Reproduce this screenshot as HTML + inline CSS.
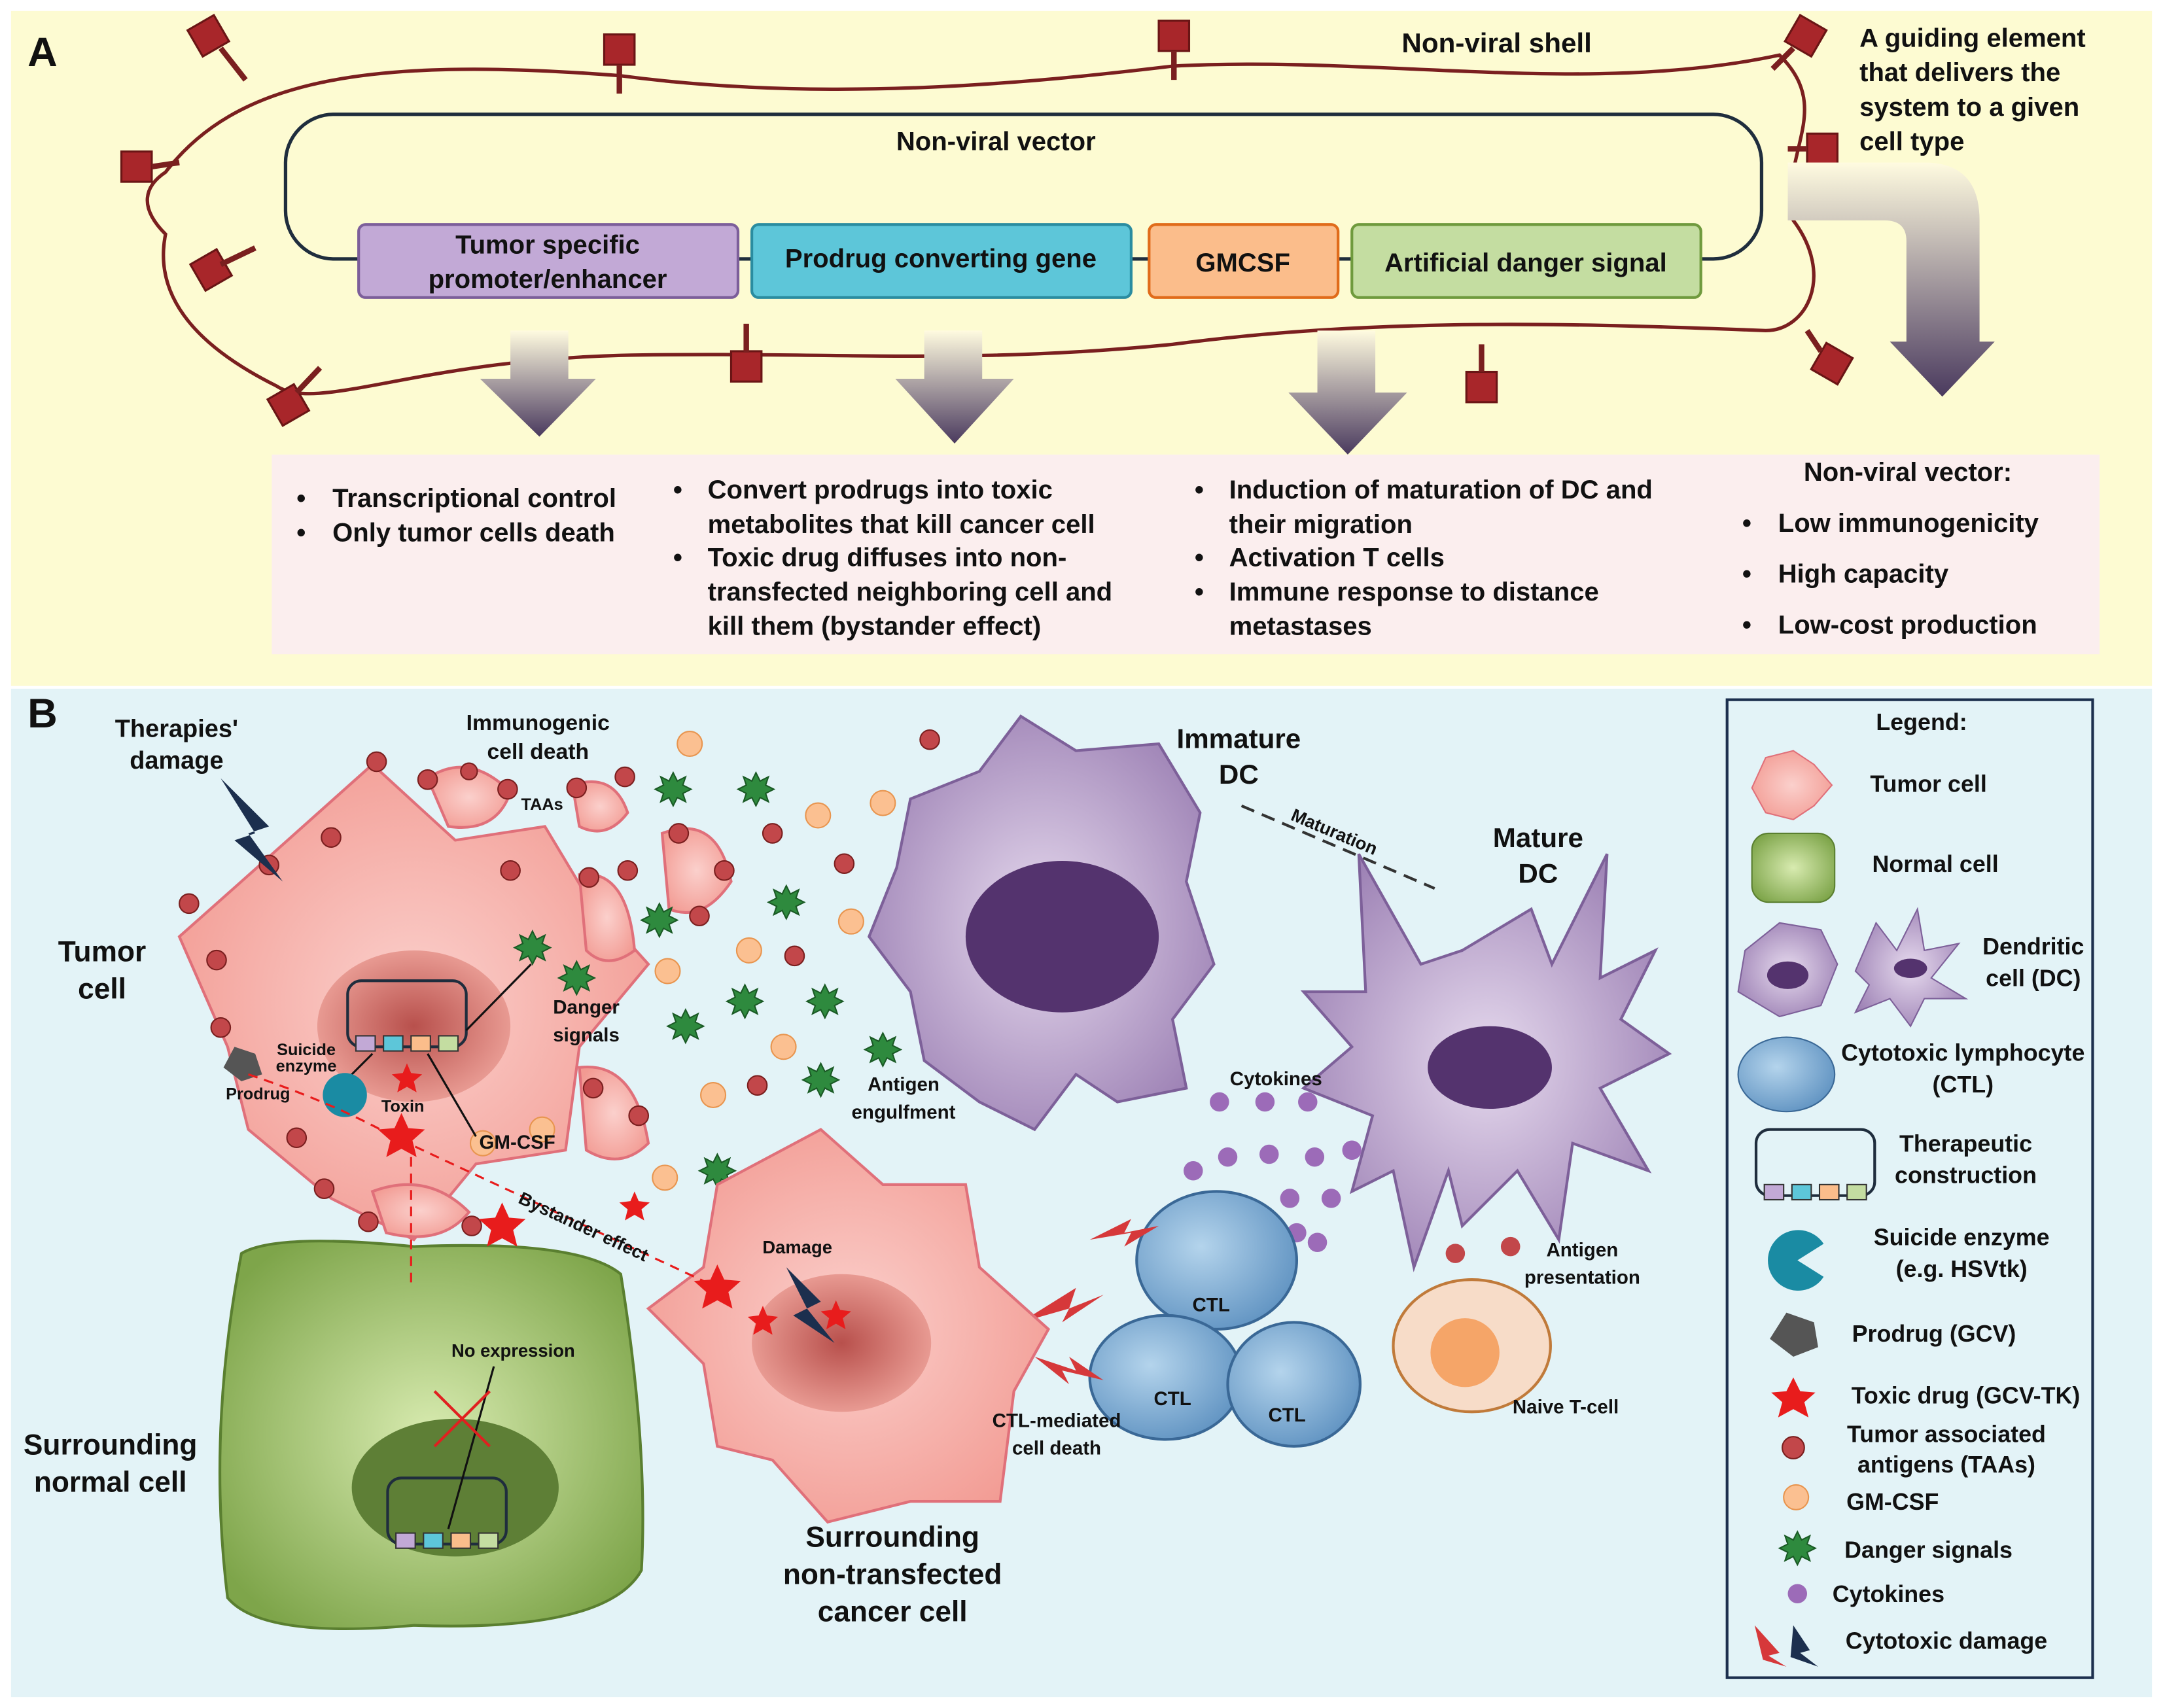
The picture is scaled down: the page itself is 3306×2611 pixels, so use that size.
<!DOCTYPE html>
<html><head><meta charset="utf-8">
<style>
html,body{margin:0;padding:0;background:#fff;}
svg{display:block;width:3306px;height:2611px;}
text{font-family:"Liberation Sans",sans-serif;font-weight:bold;fill:#111;}
</style></head><body>
<svg viewBox="0 0 1568 1240" preserveAspectRatio="none" xmlns="http://www.w3.org/2000/svg">
<defs>
<linearGradient id="ag" x1="0" y1="0" x2="0" y2="1"><stop offset="0" stop-color="#fffbe0"/><stop offset="1" stop-color="#4a3a5e"/></linearGradient>
<radialGradient id="tum" cx="0.5" cy="0.5" r="0.6"><stop offset="0" stop-color="#fbd0cc"/><stop offset="1" stop-color="#f29a92"/></radialGradient>
<radialGradient id="nuc" cx="0.5" cy="0.5" r="0.5"><stop offset="0" stop-color="#b8504c"/><stop offset="1" stop-color="#e89a92"/></radialGradient>
<radialGradient id="dc" cx="0.5" cy="0.5" r="0.6"><stop offset="0" stop-color="#e6daee"/><stop offset="1" stop-color="#9b7fb3"/></radialGradient>
<radialGradient id="nrm" cx="0.5" cy="0.5" r="0.6"><stop offset="0" stop-color="#d8ebb0"/><stop offset="1" stop-color="#7ea54a"/></radialGradient>
<radialGradient id="ctl" cx="0.4" cy="0.4" r="0.7"><stop offset="0" stop-color="#b4d4ec"/><stop offset="1" stop-color="#5b8fbf"/></radialGradient>
<g id="ds"><path d="M0,-12 L3,-6 9,-9 7,-3 13,0 7,3 9,9 3,6 0,12 -3,6 -9,9 -7,3 -13,0 -7,-3 -9,-9 -3,-6 Z" fill="#2e8a3e" stroke="#1a5a25" stroke-width="1"/></g>
</defs>
<rect x="8" y="8" width="1552" height="490" fill="#fdfbd2"/>
<rect x="8" y="500" width="1552" height="732" fill="#e3f3f7"/>
<text x="20" y="48" font-size="30">A</text>
<text x="20" y="528" font-size="30">B</text>

<path d="M120,125 C170,60 260,40 450,55 C600,75 750,60 850,48 C1000,40 1150,70 1290,40 C1330,80 1290,110 1300,160 C1330,200 1310,240 1280,240 C1150,235 1000,230 850,250 C700,265 600,255 450,258 C300,262 230,300 200,280 C150,255 110,220 120,170 C100,150 105,135 120,125 Z" fill="none" stroke="#7a1f1f" stroke-width="2.5"/>
<g fill="#a8262a" stroke="#6a1515" stroke-width="1.5">
<rect x="140" y="15" width="22" height="22" transform="rotate(-30 151 26)"/><line x1="160" y1="35" x2="178" y2="58" stroke="#7a1f1f" stroke-width="4"/>
<rect x="438" y="25" width="22" height="22"/><line x1="449" y1="47" x2="449" y2="68" stroke="#7a1f1f" stroke-width="4"/>
<rect x="840" y="15" width="22" height="22"/><line x1="851" y1="37" x2="851" y2="58" stroke="#7a1f1f" stroke-width="4"/>
<rect x="1298" y="15" width="22" height="22" transform="rotate(30 1309 26)"/><line x1="1300" y1="35" x2="1285" y2="50" stroke="#7a1f1f" stroke-width="4"/>
<rect x="88" y="110" width="22" height="22"/><line x1="110" y1="121" x2="130" y2="118" stroke="#7a1f1f" stroke-width="4"/>
<rect x="1310" y="97" width="22" height="22"/><line x1="1296" y1="108" x2="1310" y2="108" stroke="#7a1f1f" stroke-width="4"/>
<rect x="142" y="185" width="22" height="22" transform="rotate(-30 153 196)"/><line x1="160" y1="192" x2="185" y2="180" stroke="#7a1f1f" stroke-width="4"/>
<rect x="198" y="283" width="22" height="22" transform="rotate(-30 209 294)"/><line x1="215" y1="285" x2="232" y2="267" stroke="#7a1f1f" stroke-width="4"/>
<rect x="530" y="255" width="22" height="22"/><line x1="541" y1="235" x2="541" y2="256" stroke="#7a1f1f" stroke-width="4"/>
<rect x="1063" y="270" width="22" height="22"/><line x1="1074" y1="250" x2="1074" y2="270" stroke="#7a1f1f" stroke-width="4"/>
<rect x="1317" y="253" width="22" height="22" transform="rotate(30 1328 264)"/><line x1="1310" y1="240" x2="1320" y2="255" stroke="#7a1f1f" stroke-width="4"/>
</g>
<text x="1085" y="38" font-size="20" text-anchor="middle">Non-viral shell</text>
<text x="1348" y="34" font-size="19">A guiding element</text>
<text x="1348" y="59" font-size="19">that delivers the</text>
<text x="1348" y="84" font-size="19">system to a given</text>
<text x="1348" y="109" font-size="19">cell type</text>

<rect x="207" y="83" width="1070" height="105" rx="35" fill="none" stroke="#1f2d3d" stroke-width="2.5"/>
<text x="722" y="109" font-size="19" text-anchor="middle">Non-viral vector</text>
<rect x="260" y="163" width="275" height="53" rx="5" fill="#c2a9d6" stroke="#7c5e9a" stroke-width="2"/>
<text x="397" y="184" font-size="19" text-anchor="middle">Tumor specific</text>
<text x="397" y="209" font-size="19" text-anchor="middle">promoter/enhancer</text>
<rect x="545" y="163" width="275" height="53" rx="5" fill="#5dc6d9" stroke="#2a8ca0" stroke-width="2"/>
<text x="682" y="194" font-size="19" text-anchor="middle">Prodrug converting gene</text>
<rect x="833" y="163" width="137" height="53" rx="5" fill="#fbbd8b" stroke="#e06b1a" stroke-width="2"/>
<text x="901" y="197" font-size="19" text-anchor="middle">GMCSF</text>
<rect x="980" y="163" width="253" height="53" rx="5" fill="#c4dda1" stroke="#6f9a3d" stroke-width="2"/>
<text x="1106" y="197" font-size="19" text-anchor="middle">Artificial danger signal</text>

<g fill="url(#ag)">
<path d="M370,240 H412 V275 H432 L391,317 L348,275 H370 Z"/>
<path d="M670,240 H712 V275 H735 L692,322 L649,275 H670 Z"/>
<path d="M955,240 H997 V285 H1020 L977,330 L934,285 H955 Z"/>
<path d="M1296,118 H1395 Q1435,118 1435,160 V248 H1446 L1408,288 L1370,248 H1382 V175 Q1382,160 1366,160 H1296 Z"/>
</g>

<rect x="197" y="330" width="1325" height="145" fill="#fbeeee"/>
<g font-size="19">
<text x="215" y="368">•</text><text x="241" y="368">Transcriptional control</text>
<text x="215" y="393">•</text><text x="241" y="393">Only tumor cells death</text>
<text x="488" y="362">•</text><text x="513" y="362">Convert prodrugs into toxic</text>
<text x="513" y="387">metabolites that kill cancer cell</text>
<text x="488" y="411">•</text><text x="513" y="411">Toxic drug diffuses into non-</text>
<text x="513" y="436">transfected neighboring cell and</text>
<text x="513" y="461">kill them (bystander effect)</text>
<text x="866" y="362">•</text><text x="891" y="362">Induction of maturation of DC and</text>
<text x="891" y="387">their migration</text>
<text x="866" y="411">•</text><text x="891" y="411">Activation T cells</text>
<text x="866" y="436">•</text><text x="891" y="436">Immune  response to distance</text>
<text x="891" y="461">metastases</text>
<text x="1383" y="349" text-anchor="middle">Non-viral vector:</text>
<text x="1263" y="386">•</text><text x="1289" y="386">Low immunogenicity</text>
<text x="1263" y="423">•</text><text x="1289" y="423">High capacity</text>
<text x="1263" y="460">•</text><text x="1289" y="460">Low-cost production</text>
</g>

<path d="M175,640 L270,555 L330,610 L395,600 L425,650 L470,700 L420,760 L410,835 L345,845 L300,900 L240,870 L180,820 L165,760 L130,680 Z" fill="url(#tum)" stroke="#e0707a" stroke-width="2"/>
<ellipse cx="300" cy="745" rx="70" ry="55" fill="url(#nuc)"/>
<g fill="url(#tum)" stroke="#e0707a" stroke-width="2">
<path d="M310,565 Q340,545 370,575 Q360,605 325,600 Z"/>
<path d="M415,570 Q445,560 455,590 Q440,610 420,600 Z"/>
<path d="M480,605 Q520,590 530,640 Q510,670 485,660 Z"/>
<path d="M420,635 Q455,630 460,690 Q440,705 425,690 Z"/>
<path d="M420,775 Q460,770 470,830 Q450,850 425,835 Z"/>
<path d="M270,865 Q310,850 340,880 Q320,905 280,895 Z"/>
</g>
<g fill="#c2474a" stroke="#7a1f1f" stroke-width="1">
<circle cx="273" cy="553" r="7"/><circle cx="310" cy="566" r="7"/><circle cx="340" cy="560" r="6"/><circle cx="368" cy="573" r="7"/><circle cx="370" cy="632" r="7"/><circle cx="240" cy="608" r="7"/><circle cx="195" cy="628" r="7"/><circle cx="137" cy="656" r="7"/><circle cx="157" cy="697" r="7"/><circle cx="160" cy="746" r="7"/><circle cx="215" cy="826" r="7"/><circle cx="235" cy="863" r="7"/><circle cx="267" cy="887" r="7"/><circle cx="342" cy="890" r="7"/><circle cx="418" cy="572" r="7"/><circle cx="453" cy="564" r="7"/><circle cx="492" cy="605" r="7"/><circle cx="507" cy="665" r="7"/><circle cx="525" cy="632" r="7"/><circle cx="427" cy="637" r="7"/><circle cx="455" cy="632" r="7"/><circle cx="430" cy="790" r="7"/><circle cx="463" cy="810" r="7"/><circle cx="560" cy="605" r="7"/><circle cx="576" cy="694" r="7"/><circle cx="549" cy="788" r="7"/><circle cx="612" cy="627" r="7"/><circle cx="674" cy="537" r="7"/>
</g>
<use href="#ds" x="488" y="573"/><use href="#ds" x="548" y="573"/><use href="#ds" x="478" y="668"/><use href="#ds" x="570" y="655"/><use href="#ds" x="497" y="745"/><use href="#ds" x="540" y="727"/><use href="#ds" x="598" y="727"/><use href="#ds" x="595" y="784"/><use href="#ds" x="520" y="850"/><use href="#ds" x="640" y="762"/><use href="#ds" x="386" y="688"/><use href="#ds" x="418" y="710"/>
<g fill="#fbc091" stroke="#e8954f" stroke-width="1">
<circle cx="500" cy="540" r="9"/><circle cx="593" cy="592" r="9"/><circle cx="640" cy="583" r="9"/><circle cx="484" cy="705" r="9"/><circle cx="543" cy="690" r="9"/><circle cx="617" cy="669" r="9"/><circle cx="568" cy="760" r="9"/><circle cx="517" cy="795" r="9"/><circle cx="482" cy="855" r="9"/><circle cx="350" cy="830" r="9"/><circle cx="393" cy="820" r="9"/>
</g>
<path d="M660,580 L710,560 L740,520 L780,545 L840,540 L870,590 L860,640 L880,700 L850,740 L860,790 L810,800 L780,780 L750,820 L710,800 L670,770 L660,720 L630,680 L650,630 Z" fill="url(#dc)" stroke="#7d6099" stroke-width="2"/>
<ellipse cx="770" cy="680" rx="70" ry="55" fill="#54336e"/>
<path d="M990,720 L985,620 L1030,700 L1060,690 L1110,660 L1125,700 L1165,620 L1160,710 L1200,690 L1175,740 L1210,765 L1160,790 L1195,850 L1140,830 L1130,900 L1100,850 L1060,890 L1050,850 L1025,920 L1010,850 L980,865 L995,810 L945,790 L980,760 L945,720 Z" fill="url(#dc)" stroke="#7d6099" stroke-width="2"/>
<ellipse cx="1080" cy="775" rx="45" ry="30" fill="#54336e"/>
<path d="M900,585 L1040,645" stroke="#333" stroke-width="2" stroke-dasharray="10,6" fill="none"/>
<text x="935" y="595" font-size="13" transform="rotate(23 935 595)">Maturation</text>
<text x="898" y="543" font-size="20" text-anchor="middle">Immature</text>
<text x="898" y="569" font-size="20" text-anchor="middle">DC</text>
<text x="1115" y="615" font-size="20" text-anchor="middle">Mature</text>
<text x="1115" y="641" font-size="20" text-anchor="middle">DC</text>
<g fill="#9c6bb8"><circle cx="884" cy="800" r="7"/><circle cx="917" cy="800" r="7"/><circle cx="948" cy="800" r="7"/><circle cx="890" cy="840" r="7"/><circle cx="920" cy="838" r="7"/><circle cx="953" cy="840" r="7"/><circle cx="865" cy="850" r="7"/><circle cx="935" cy="870" r="7"/><circle cx="965" cy="870" r="7"/><circle cx="940" cy="895" r="7"/><circle cx="955" cy="902" r="7"/><circle cx="980" cy="835" r="7"/></g>
<text x="925" y="788" font-size="14" text-anchor="middle">Cytokines</text>
<g fill="url(#ctl)" stroke="#3a6896" stroke-width="2">
<ellipse cx="882" cy="915" rx="58" ry="50"/>
<ellipse cx="845" cy="1000" rx="55" ry="45"/>
<ellipse cx="938" cy="1005" rx="48" ry="45"/>
</g>
<text x="878" y="952" font-size="14" text-anchor="middle">CTL</text>
<text x="850" y="1020" font-size="14" text-anchor="middle">CTL</text>
<text x="933" y="1032" font-size="14" text-anchor="middle">CTL</text>
<g fill="#d6383a"><path d="M790,900 L820,885 L815,895 L840,890 L815,905 L820,895 Z"/><path d="M740,960 L780,935 L775,950 L800,940 L770,960 L775,950 Z"/><path d="M750,985 L780,995 L775,985 L800,1002 L770,995 L775,1005 Z"/></g>
<ellipse cx="1067" cy="977" rx="57" ry="48" fill="#f7dcc8" stroke="#c07a3a" stroke-width="2"/>
<circle cx="1062" cy="982" r="25" fill="#f5a568"/>
<circle cx="1055" cy="910" r="7" fill="#c2474a"/><circle cx="1095" cy="905" r="7" fill="#c2474a"/>
<text x="1135" y="1026" font-size="14" text-anchor="middle">Naive T-cell</text>
<text x="1147" y="912" font-size="14" text-anchor="middle">Antigen</text>
<text x="1147" y="932" font-size="14" text-anchor="middle">presentation</text>
<path d="M520,860 L595,820 L640,860 L700,860 L710,920 L760,965 L735,1010 L725,1090 L660,1090 L600,1105 L560,1060 L520,1050 L510,990 L470,950 L510,920 Z" fill="url(#tum)" stroke="#e0707a" stroke-width="2"/>
<ellipse cx="610" cy="975" rx="65" ry="50" fill="url(#nuc)"/>
<path d="M570,920 L595,945 L585,950 L605,975 L575,955 L585,950 Z" fill="#1c2f4e"/>
<text x="578" y="910" font-size="13" text-anchor="middle">Damage</text>
<path d="M175,910 Q200,895 300,905 Q420,900 450,925 Q470,1050 465,1140 Q440,1185 300,1180 Q190,1190 165,1160 Q150,1040 175,910 Z" fill="url(#nrm)" stroke="#5a7f30" stroke-width="2"/>
<ellipse cx="330" cy="1080" rx="75" ry="50" fill="#5e7f36"/>
<rect x="281" y="1073" width="86" height="48" rx="10" fill="none" stroke="#1f2d3d" stroke-width="2"/>
<g stroke="#333" stroke-width="1"><rect x="287" y="1113" width="14" height="11" fill="#c2a9d6"/><rect x="307" y="1113" width="14" height="11" fill="#5dc6d9"/><rect x="327" y="1113" width="14" height="11" fill="#fbbd8b"/><rect x="347" y="1113" width="14" height="11" fill="#c4dda1"/></g>
<line x1="325" y1="1110" x2="358" y2="992" stroke="#111" stroke-width="1.5"/>
<path d="M315,1010 L355,1050 M355,1010 L315,1050" stroke="#e02020" stroke-width="2"/>
<text x="372" y="985" font-size="13" text-anchor="middle">No expression</text>
<rect x="252" y="712" width="86" height="48" rx="10" fill="none" stroke="#1f2d3d" stroke-width="2"/>
<g stroke="#333" stroke-width="1"><rect x="258" y="752" width="14" height="11" fill="#c2a9d6"/><rect x="278" y="752" width="14" height="11" fill="#5dc6d9"/><rect x="298" y="752" width="14" height="11" fill="#fbbd8b"/><rect x="318" y="752" width="14" height="11" fill="#c4dda1"/></g>
<g stroke="#111" stroke-width="1.5" fill="none"><line x1="338" y1="748" x2="385" y2="700"/><line x1="270" y1="765" x2="250" y2="785"/><line x1="310" y1="765" x2="345" y2="825"/></g>
<circle cx="250" cy="795" r="16" fill="#1a8ba3"/>
<path d="M170,760 L185,765 L190,780 L175,785 L162,775 Z" fill="#555"/>
<g fill="#e81c1c">
<path d="M291,808 l5,11 12,1 -9,8 3,12 -11,-6 -11,6 3,-12 -9,-8 12,-1 Z"/>
<path d="M295,772 l3,7 8,1 -6,5 2,8 -7,-4 -7,4 2,-8 -6,-5 8,-1 Z"/>
<path d="M364,873 l5,11 12,1 -9,8 3,12 -11,-6 -11,6 3,-12 -9,-8 12,-1 Z"/>
<path d="M460,865 l3,7 8,1 -6,5 2,8 -7,-4 -7,4 2,-8 -6,-5 8,-1 Z"/>
<path d="M520,918 l5,11 12,1 -9,8 3,12 -11,-6 -11,6 3,-12 -9,-8 12,-1 Z"/>
<path d="M553,948 l3,7 8,1 -6,5 2,8 -7,-4 -7,4 2,-8 -6,-5 8,-1 Z"/>
<path d="M606,944 l3,7 8,1 -6,5 2,8 -7,-4 -7,4 2,-8 -6,-5 8,-1 Z"/>
</g>
<g stroke="#e81c1c" stroke-width="1.5" stroke-dasharray="7,5" fill="none">
<path d="M180,780 Q240,800 285,825 L510,930"/><line x1="298" y1="840" x2="298" y2="935"/>
</g>
<text x="375" y="873" font-size="13" transform="rotate(25 375 873)">Bystander effect</text>
<path d="M160,565 L195,600 L180,605 L205,640 L170,610 L185,605 Z" fill="#1c2f4e"/>
<g font-size="16">
<text x="128" y="535" text-anchor="middle" font-size="18">Therapies'</text>
<text x="128" y="558" text-anchor="middle" font-size="18">damage</text>
<text x="390" y="530" text-anchor="middle">Immunogenic</text>
<text x="390" y="551" text-anchor="middle">cell death</text>
<text x="393" y="588" text-anchor="middle" font-size="12">TAAs</text>
<text x="74" y="698" text-anchor="middle" font-size="21">Tumor</text>
<text x="74" y="725" text-anchor="middle" font-size="21">cell</text>
<text x="425" y="736" text-anchor="middle" font-size="14">Danger</text>
<text x="425" y="756" text-anchor="middle" font-size="14">signals</text>
<text x="222" y="766" text-anchor="middle" font-size="12">Suicide</text>
<text x="222" y="778" text-anchor="middle" font-size="12">enzyme</text>
<text x="187" y="798" text-anchor="middle" font-size="12">Prodrug</text>
<text x="292" y="807" text-anchor="middle" font-size="12">Toxin</text>
<text x="375" y="834" text-anchor="middle" font-size="14">GM-CSF</text>
<text x="655" y="792" text-anchor="middle" font-size="14">Antigen</text>
<text x="655" y="812" text-anchor="middle" font-size="14">engulfment</text>
<text x="80" y="1056" text-anchor="middle" font-size="21">Surrounding</text>
<text x="80" y="1083" text-anchor="middle" font-size="21">normal cell</text>
<text x="647" y="1123" text-anchor="middle" font-size="21">Surrounding</text>
<text x="647" y="1150" text-anchor="middle" font-size="21">non-transfected</text>
<text x="647" y="1177" text-anchor="middle" font-size="21">cancer cell</text>
<text x="766" y="1036" text-anchor="middle" font-size="14">CTL-mediated</text>
<text x="766" y="1056" text-anchor="middle" font-size="14">cell death</text>
</g>
<rect x="1252" y="508" width="265" height="710" fill="none" stroke="#1c2f4e" stroke-width="2"/>
<g font-size="17">
<text x="1393" y="530" text-anchor="middle">Legend:</text>
<path d="M1280,550 L1300,545 L1315,555 L1328,570 L1315,585 L1300,595 L1280,590 L1270,572 Z" fill="url(#tum)" stroke="#e0707a"/>
<text x="1398" y="575" text-anchor="middle">Tumor cell</text>
<rect x="1270" y="605" width="60" height="50" rx="12" fill="url(#nrm)" stroke="#5a7f30"/>
<text x="1403" y="633" text-anchor="middle">Normal cell</text>
<path d="M1265,690 L1290,670 L1320,675 L1332,700 L1320,730 L1290,738 L1260,720 Z" fill="url(#dc)" stroke="#7d6099"/>
<ellipse cx="1296" cy="708" rx="15" ry="10" fill="#54336e"/>
<path d="M1345,705 L1360,670 L1375,690 L1390,660 L1395,690 L1420,685 L1400,710 L1425,725 L1395,725 L1385,745 L1370,725 L1345,735 L1355,715 Z" fill="url(#dc)" stroke="#7d6099"/>
<ellipse cx="1385" cy="703" rx="12" ry="7" fill="#54336e"/>
<text x="1474" y="693" text-anchor="middle">Dendritic</text>
<text x="1474" y="716" text-anchor="middle">cell  (DC)</text>
<ellipse cx="1295" cy="780" rx="35" ry="27" fill="url(#ctl)" stroke="#3a6896"/>
<text x="1423" y="770" text-anchor="middle">Cytotoxic lymphocyte</text>
<text x="1423" y="793" text-anchor="middle">(CTL)</text>
<rect x="1273" y="820" width="86" height="48" rx="10" fill="none" stroke="#1f2d3d" stroke-width="2"/>
<g stroke="#333" stroke-width="1"><rect x="1279" y="860" width="14" height="11" fill="#c2a9d6"/><rect x="1299" y="860" width="14" height="11" fill="#5dc6d9"/><rect x="1319" y="860" width="14" height="11" fill="#fbbd8b"/><rect x="1339" y="860" width="14" height="11" fill="#c4dda1"/></g>
<text x="1425" y="836" text-anchor="middle">Therapeutic</text>
<text x="1425" y="859" text-anchor="middle">construction</text>
<path d="M1303,915 L1322,903 A22,22 0 1,0 1322,927 Z" fill="#1a8ba3"/>
<text x="1422" y="904" text-anchor="middle">Suicide enzyme</text>
<text x="1422" y="927" text-anchor="middle">(e.g. HSVtk)</text>
<path d="M1295,953 L1315,960 L1318,978 L1300,985 L1283,972 Z" fill="#555"/>
<text x="1402" y="974" text-anchor="middle">Prodrug (GCV)</text>
<path d="M1300,1000 l5,10 11,1 -8,7 3,11 -11,-6 -11,6 3,-11 -8,-7 11,-1 Z" fill="#e81c1c"/>
<text x="1425" y="1019" text-anchor="middle">Toxic drug (GCV-TK)</text>
<circle cx="1300" cy="1051" r="8" fill="#c2474a" stroke="#7a1f1f"/>
<text x="1411" y="1047" text-anchor="middle">Tumor associated</text>
<text x="1411" y="1069" text-anchor="middle">antigens (TAAs)</text>
<circle cx="1302" cy="1087" r="9" fill="#fbc091" stroke="#e8954f"/>
<text x="1372" y="1096" text-anchor="middle">GM-CSF</text>
<use href="#ds" x="1303" y="1124"/>
<text x="1398" y="1131" text-anchor="middle">Danger signals</text>
<circle cx="1303" cy="1157" r="7" fill="#9c6bb8"/>
<text x="1369" y="1163" text-anchor="middle">Cytokines</text>
<path d="M1272,1180 L1290,1200 L1282,1202 L1295,1210 L1278,1205 Z" fill="#d6383a"/>
<path d="M1300,1180 L1312,1198 L1305,1200 L1318,1210 L1298,1203 Z" fill="#1c2f4e"/>
<text x="1411" y="1197" text-anchor="middle">Cytotoxic damage</text>
</g>
</svg>
</body></html>
